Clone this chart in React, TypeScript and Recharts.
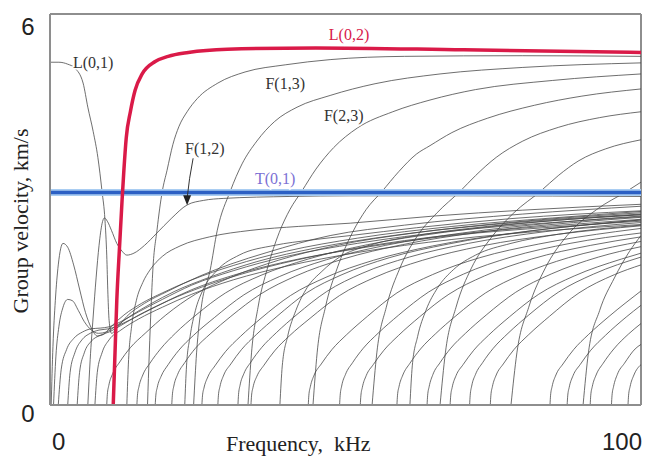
import { LineChart, Line, XAxis, YAxis, ReferenceLine, ReferenceDot } from 'recharts'

type Pt = [number, number]

// axis ticks
const freqTicks = [0, 100]
const velTicks = [0, 6]

// [frequency kHz, group velocity km/s]
const t01: Pt[] = [[0, 3.26], [100, 3.26]]
const l02: Pt[] = [[10.7, 0], [11.0, 0.8], [11.3, 1.6], [11.75, 2.4], [12.2, 3.15], [12.5, 3.6], [12.9, 4.1], [13.6, 4.5], [14.4, 4.83], [15.6, 5.08], [17.8, 5.27], [20, 5.35], [23.4, 5.41], [30, 5.46], [45, 5.48], [70, 5.45], [100, 5.41]]
const l01: Pt[] = [[0, 5.26], [1.5, 5.26], [3, 5.23], [4.2, 5.17], [5.6, 4.94], [6.4, 4.57], [7.3, 4.2], [8.1, 3.8], [8.8, 3.28], [9.3, 2.84], [9.6, 2.3], [9.8, 1.7], [10, 1.3], [10.4, 1.1], [11.5, 1.2], [13, 1.36], [16, 1.56], [19.8, 1.74], [25.4, 1.98], [30.5, 2.16], [36.7, 2.34], [47.4, 2.6], [60, 2.76], [80, 2.93], [100, 3.05]]
const f12: Pt[] = [[6.4, 0], [6.8, 0.7], [7.3, 1.35], [7.8, 1.95], [8.3, 2.45], [8.8, 2.78], [9.2, 2.87], [9.7, 2.82], [10.4, 2.68], [11.3, 2.48], [12.2, 2.36], [13, 2.3], [14.2, 2.33], [16, 2.45], [18.1, 2.64], [20.5, 2.86], [23.2, 3.07], [26, 3.14], [29.3, 3.17], [40.6, 3.2], [50.8, 3.21], [70, 3.21], [100, 3.2]]
const f13: Pt[] = [[16.5, 0], [16.8, 0.8], [17.1, 1.5], [17.4, 2.07], [18.1, 2.68], [19, 3.28], [19.8, 3.6], [20.8, 4.0], [21.8, 4.27], [23.2, 4.5], [24.9, 4.7], [28.4, 4.94], [33, 5.11], [39.8, 5.22], [47.4, 5.3], [60, 5.35], [80, 5.36], [100, 5.35]]
const f23: Pt[] = [[24.3, 0], [24.8, 0.8], [25.6, 1.5], [27.1, 2.07], [28.3, 2.68], [30.5, 3.28], [32.5, 3.7], [35, 4.05], [38, 4.35], [41.8, 4.57], [47.4, 4.75], [55, 4.93], [66, 5.08], [80, 5.18], [100, 5.25]]
const upC: Pt[] = [[33.5, 0], [34.1, 0.8], [35.2, 1.5], [36.8, 2.1], [38.8, 2.65], [40.6, 3.0], [42.6, 3.28], [45, 3.62], [48, 3.95], [52, 4.25], [58, 4.5], [64.3, 4.68], [72, 4.84], [85, 4.98], [100, 5.08]]
const upD: Pt[] = [[44.5, 0], [45.2, 0.8], [46.6, 1.5], [48.6, 2.1], [51.2, 2.65], [53.5, 3.0], [56.2, 3.28], [59, 3.58], [62, 3.85], [64.3, 3.98], [68, 4.18], [74, 4.4], [82, 4.6], [90, 4.74], [100, 4.85]]
const upE: Pt[] = [[54.5, 0], [55.3, 0.8], [56.9, 1.5], [59.2, 2.1], [62.2, 2.6], [65.5, 2.95], [69.4, 3.28], [72, 3.52], [75.5, 3.8], [80, 4.05], [86, 4.26], [93, 4.41], [100, 4.5]]
const upF: Pt[] = [[66, 0], [66.9, 0.8], [68.7, 1.5], [71.3, 2.1], [74.5, 2.55], [78.5, 2.95], [83, 3.28], [86, 3.52], [89.5, 3.75], [94, 3.93], [100, 4.07]]
const upG: Pt[] = [[78, 0], [79, 0.8], [81, 1.5], [83.8, 2.1], [87.5, 2.6], [92.5, 3.0], [97.6, 3.28], [100, 3.42]]
const upH: Pt[] = [[90.2, 0], [91.1, 0.8], [93, 1.45], [95.5, 1.95], [98, 2.35], [100, 2.6]]

const arch1: Pt[] = [[0.2, 0], [0.5, 0.9], [0.9, 1.6], [1.4, 2.15], [2.2, 2.48], [3, 2.42], [4, 2.15], [5, 1.78], [6, 1.42], [7, 1.18], [8, 1.06], [9, 1.08], [10.3, 1.2], [12.5, 1.38], [15.5, 1.56], [19, 1.72], [24, 1.92], [31, 2.14], [40, 2.36], [52, 2.56], [68, 2.74], [85, 2.87], [100, 2.97]]
const arch2: Pt[] = [[0.6, 0], [1, 0.75], [1.5, 1.2], [2.2, 1.5], [3, 1.62], [3.8, 1.6], [4.8, 1.45], [5.8, 1.28], [7, 1.15], [8.2, 1.1], [9.5, 1.12], [11, 1.2], [13.5, 1.36], [17, 1.55], [21, 1.74], [27, 1.96], [35, 2.2], [45, 2.41], [58, 2.6], [75, 2.77], [100, 2.93]]
const arch3: Pt[] = [[1.4, 0], [1.9, 0.55], [2.8, 0.85], [4, 1.02], [5.5, 1.12], [7, 1.17], [8.5, 1.18], [10, 1.2], [12, 1.28], [15, 1.43], [19, 1.62], [24, 1.84], [31, 2.06], [40, 2.28], [52, 2.48], [68, 2.67], [85, 2.8], [100, 2.89]]
const arch4: Pt[] = [[3.0, 0], [3.4, 0.5], [4.2, 0.8], [5.4, 1.0], [6.8, 1.1], [8.3, 1.15], [10, 1.17], [12.5, 1.26], [16, 1.42], [20, 1.6], [26, 1.82], [34, 2.05], [44, 2.27], [56, 2.47], [72, 2.65], [88, 2.77], [100, 2.85]]
const bund5: Pt[] = [[4.6, 0], [5, 0.5], [5.8, 0.8], [7, 0.98], [8.5, 1.07], [10, 1.12], [12, 1.22], [15, 1.38], [19, 1.56], [24, 1.77], [31, 1.99], [40, 2.2], [52, 2.4], [68, 2.6], [85, 2.73], [100, 2.82]]
const bund6: Pt[] = [[7.6, 0], [8, 0.5], [8.8, 0.8], [10, 1.0], [12, 1.15], [15, 1.32], [19, 1.5], [24, 1.7], [31, 1.92], [40, 2.13], [52, 2.34], [68, 2.54], [85, 2.68], [100, 2.77]]

const mid1: Pt[] = [[13, 0], [13.3, 0.7], [13.8, 1.2], [14.6, 1.6], [15.7, 1.88], [16.9, 2.07], [19, 2.28], [22, 2.44], [27, 2.58], [34, 2.68], [42, 2.74], [50.8, 2.79], [65, 2.9], [80, 2.99], [100, 3.08]]
const mid2: Pt[] = [[22.8, 0], [23.1, 0.6], [23.7, 1.05], [24.6, 1.45], [25.8, 1.75], [28.3, 2.07], [32, 2.3], [38, 2.45], [44, 2.53], [50.8, 2.6], [62, 2.72], [78, 2.86], [100, 2.98]]
const mid3: Pt[] = [[38.9, 0], [39.3, 0.6], [40.2, 1.05], [41.6, 1.45], [43.5, 1.8], [46, 2.05], [49, 2.27], [54, 2.45], [62, 2.6], [74, 2.74], [88, 2.85], [100, 2.92]]
const mid4: Pt[] = [[60.9, 0], [61.3, 0.6], [62.2, 1.05], [63.6, 1.45], [65.6, 1.8], [68.3, 2.08], [72, 2.3], [78, 2.48], [86, 2.62], [100, 2.76]]

const low1: Pt[] = [[9.6, 0], [9.7, 0.16], [9.95, 0.3], [10.6, 0.48], [11.8, 0.66], [13.6, 0.88], [16.1, 1.1], [19.6, 1.38], [24.6, 1.7], [30.6, 1.96], [38.6, 2.22], [48.6, 2.45], [61.6, 2.64], [77.6, 2.8], [100, 2.95]]
const low2: Pt[] = [[14.7, 0], [14.8, 0.15], [15.05, 0.28], [15.7, 0.46], [16.9, 0.64], [18.7, 0.86], [21.2, 1.1], [24.7, 1.38], [29.7, 1.72], [35.7, 1.99], [43.7, 2.24], [53.7, 2.46], [66.7, 2.65], [82.7, 2.81], [100, 2.92]]
const low3: Pt[] = [[17.8, 0], [17.9, 0.14], [18.15, 0.27], [18.8, 0.44], [20, 0.62], [21.8, 0.84], [24.3, 1.07], [27.8, 1.34], [32.8, 1.69], [38.8, 1.97], [46.8, 2.23], [56.8, 2.45], [69.8, 2.64], [85.8, 2.8], [100, 2.9]]
const low4: Pt[] = [[20.6, 0], [20.7, 0.15], [20.95, 0.29], [21.6, 0.47], [22.8, 0.65], [24.6, 0.87], [27.1, 1.09], [30.6, 1.36], [35.6, 1.7], [41.6, 1.98], [49.6, 2.24], [59.6, 2.46], [72.6, 2.65], [88.6, 2.8], [100, 2.88]]
const low5: Pt[] = [[25.7, 0], [25.8, 0.14], [26.05, 0.26], [26.7, 0.43], [27.9, 0.6], [29.7, 0.82], [32.2, 1.05], [35.7, 1.33], [40.7, 1.68], [46.7, 1.96], [54.7, 2.22], [64.7, 2.44], [77.7, 2.63], [93.7, 2.79], [100, 2.84]]
const low6: Pt[] = [[28.4, 0], [28.5, 0.15], [28.75, 0.28], [29.4, 0.46], [30.6, 0.63], [32.4, 0.85], [34.9, 1.08], [38.4, 1.36], [43.4, 1.72], [49.4, 2.0], [57.4, 2.26], [67.4, 2.47], [80.4, 2.66], [96.4, 2.81], [100, 2.84]]
const low7: Pt[] = [[31.8, 0], [31.9, 0.16], [32.15, 0.3], [32.8, 0.48], [34, 0.66], [35.8, 0.88], [38.3, 1.11], [41.8, 1.39], [46.8, 1.74], [52.8, 2.02], [60.8, 2.27], [70.8, 2.48], [83.8, 2.66], [100, 2.8]]
const low8: Pt[] = [[34, 0], [34.1, 0.14], [34.35, 0.27], [35, 0.44], [36.2, 0.61], [38, 0.83], [40.5, 1.06], [44, 1.33], [49, 1.68], [55, 1.96], [63, 2.22], [73, 2.44], [86, 2.62], [100, 2.75]]
const low9: Pt[] = [[43.7, 0], [43.8, 0.15], [44.05, 0.28], [44.7, 0.46], [45.9, 0.63], [47.7, 0.85], [50.2, 1.08], [53.7, 1.36], [58.7, 1.72], [64.7, 2.0], [72.7, 2.26], [82.7, 2.47], [95.7, 2.66], [100, 2.71]]
const low10: Pt[] = [[49, 0], [49.1, 0.15], [49.35, 0.29], [50, 0.47], [51.2, 0.65], [53, 0.87], [55.5, 1.1], [59, 1.38], [64, 1.73], [70, 2.01], [78, 2.27], [88, 2.48], [100, 2.64]]
const low11: Pt[] = [[52.5, 0], [52.6, 0.14], [52.85, 0.27], [53.5, 0.45], [54.7, 0.62], [56.5, 0.84], [59, 1.07], [62.5, 1.35], [67.5, 1.7], [73.5, 1.98], [81.5, 2.24], [91.5, 2.45], [100, 2.58]]
const low12: Pt[] = [[58.7, 0], [58.8, 0.15], [59.05, 0.28], [59.7, 0.46], [60.9, 0.64], [62.7, 0.86], [65.2, 1.09], [68.7, 1.37], [73.7, 1.72], [79.7, 2.0], [87.7, 2.26], [97.7, 2.47], [100, 2.51]]
const low13: Pt[] = [[63.8, 0], [63.9, 0.15], [64.15, 0.28], [64.8, 0.47], [66, 0.65], [67.8, 0.87], [70.3, 1.1], [73.8, 1.38], [78.8, 1.73], [84.8, 2.01], [92.8, 2.27], [100, 2.43]]
const low14: Pt[] = [[67.7, 0], [67.8, 0.14], [68.05, 0.27], [68.7, 0.45], [69.9, 0.62], [71.7, 0.84], [74.2, 1.07], [77.7, 1.35], [82.7, 1.7], [88.7, 1.98], [96.7, 2.24], [100, 2.33]]
const low15: Pt[] = [[71, 0], [71.1, 0.15], [71.35, 0.29], [72, 0.47], [73.2, 0.65], [75, 0.87], [77.5, 1.1], [81, 1.38], [86, 1.73], [92, 2.01], [100, 2.27]]
const low16: Pt[] = [[74.5, 0], [74.6, 0.15], [74.85, 0.28], [75.5, 0.46], [76.7, 0.63], [78.5, 0.85], [81, 1.08], [84.5, 1.36], [89.5, 1.72], [95.5, 2.0], [100, 2.15]]
const low17: Pt[] = [[84.6, 0], [84.7, 0.15], [84.95, 0.28], [85.6, 0.46], [86.8, 0.63], [88.6, 0.85], [91.1, 1.08], [94.6, 1.36], [100, 1.75]]
const low18: Pt[] = [[87.5, 0], [87.6, 0.14], [87.85, 0.27], [88.5, 0.45], [89.7, 0.62], [91.5, 0.84], [94, 1.07], [97.5, 1.35], [100, 1.53]]
const low19: Pt[] = [[91.4, 0], [91.5, 0.15], [91.75, 0.28], [92.4, 0.46], [93.6, 0.64], [95.4, 0.86], [97.9, 1.09], [100, 1.25]]
const low20: Pt[] = [[95, 0], [95.1, 0.15], [95.35, 0.28], [96, 0.47], [97.2, 0.64], [99, 0.86], [100, 0.93]]
const low21: Pt[] = [[97.8, 0], [97.9, 0.15], [98.15, 0.28], [98.8, 0.46], [100, 0.62]]

const grayModes: Pt[][] = [
  low1, low2, low3, low4, low5, low6, low7, low8, low9, low10, low11,
  low12, low13, low14, low15, low16, low17, low18, low19, low20, low21,
  mid1, mid2, mid3, mid4,
  arch1, arch2, arch3, arch4, bund5, bund6, l01, f12,
  f13, f23, upC, upD, upE, upF, upG, upH,
]

const curveLabels = [
  { text: 'L(0,1)', f: 7.3, v: 5.25, color: '#333' },
  { text: 'L(0,2)', f: 50.6, v: 5.69, color: '#d8204c' },
  { text: 'F(1,3)', f: 39.8, v: 4.94, color: '#333' },
  { text: 'F(2,3)', f: 49.7, v: 4.45, color: '#333' },
  { text: 'F(1,2)', f: 26.2, v: 3.94, color: '#333' },
  { text: 'T(0,1)', f: 38.1, v: 3.48, color: '#7b70d4' },
]

const rows = (pts: Pt[]) => pts.map(([f, v]) => ({ f, v }))

const frame = '#8e8e8e'
const serif = "'Liberation Serif', 'Times New Roman', serif"

function FreqTick(props: any) {
  const { x, payload } = props
  const last = payload.value === freqTicks[freqTicks.length - 1]
  return (
    <text x={last ? x + 1 : x + 2} y={450} textAnchor={last ? 'end' : 'start'} fontSize={24}
      fontFamily="'Liberation Sans', Arial, sans-serif" fill="#222">
      {payload.value}
    </text>
  )
}

function VelTick(props: any) {
  const { y, payload } = props
  const top = payload.value === velTicks[velTicks.length - 1]
  return (
    <text x={28} y={top ? y + 21 : y + 17} textAnchor="middle" fontSize={24}
      fontFamily="'Liberation Sans', Arial, sans-serif" fill="#222">
      {payload.value}
    </text>
  )
}

export default function App() {
  return (
    <div style={{ position: 'absolute', left: 0, top: 0, width: 654, height: 461, background: '#fff' }}>
      <LineChart width={654} height={461} margin={{ top: 14, right: 13, bottom: 0, left: 0 }}>
        <XAxis type="number" dataKey="f" domain={[0, 100]} ticks={freqTicks} allowDataOverflow
          height={56} tickLine={false} axisLine={{ stroke: frame, strokeWidth: 2 }} tick={<FreqTick />} interval={0} />
        <YAxis type="number" dataKey="v" domain={[0, 6]} ticks={velTicks} allowDataOverflow
          width={50} tickLine={false} axisLine={{ stroke: frame, strokeWidth: 2 }} tick={<VelTick />} interval={0} />
        <ReferenceLine y={6} stroke={frame} strokeWidth={2} />
        <ReferenceLine x={100} stroke={frame} strokeWidth={2} />
        {grayModes.map((m, i) => (
          <Line key={i} data={rows(m)} dataKey="v" type="monotone" stroke="#454545" strokeWidth={1}
            strokeOpacity={0.78} dot={false} activeDot={false} isAnimationActive={false} />
        ))}
        <Line data={rows(t01)} dataKey="v" type="linear" stroke="#a9cdf2" strokeWidth={7}
          dot={false} activeDot={false} isAnimationActive={false} />
        <Line data={rows(t01)} dataKey="v" type="linear" stroke="#2c60c4" strokeWidth={3.5}
          dot={false} activeDot={false} isAnimationActive={false} />
        <Line data={rows(l02)} dataKey="v" type="monotone" stroke="#da1a48" strokeWidth={3.5}
          dot={false} activeDot={false} isAnimationActive={false} />
        {curveLabels.map((c) => (
          <ReferenceDot key={c.text} x={c.f} y={c.v} r={1} ifOverflow="visible"
            shape={(p: any) => (
              <text x={p.cx} y={p.cy} textAnchor="middle" dominantBaseline="central" fontSize={16}
                fontFamily={serif} fill={c.color} stroke="#fff" strokeWidth={3} paintOrder="stroke">
                {c.text}
              </text>
            )} />
        ))}
        <ReferenceDot x={23.2} y={3.08} r={1} ifOverflow="visible"
          shape={(p: any) => (
            <g>
              <path d={`M ${p.cx + 6} ${p.cy - 46} Q ${p.cx + 2} ${p.cy - 26} ${p.cx} ${p.cy - 6}`}
                fill="none" stroke="#333" strokeWidth={1} />
              <path d={`M ${p.cx - 4} ${p.cy - 9} L ${p.cx + 4} ${p.cy - 9} L ${p.cx} ${p.cy + 1} Z`} fill="#222" />
            </g>
          )} />
      </LineChart>
      <div style={{ position: 'absolute', left: 226, top: 431, fontFamily: serif,
        fontSize: 22, color: '#222', whiteSpace: 'nowrap' }}>
        Frequency,&nbsp; kHz
      </div>
      <div style={{ position: 'absolute', left: 21, top: 221, fontFamily: serif,
        fontSize: 22, color: '#222', whiteSpace: 'nowrap', transform: 'translate(-50%, -50%) rotate(-90deg)' }}>
        Group velocity, km/s
      </div>
    </div>
  )
}
